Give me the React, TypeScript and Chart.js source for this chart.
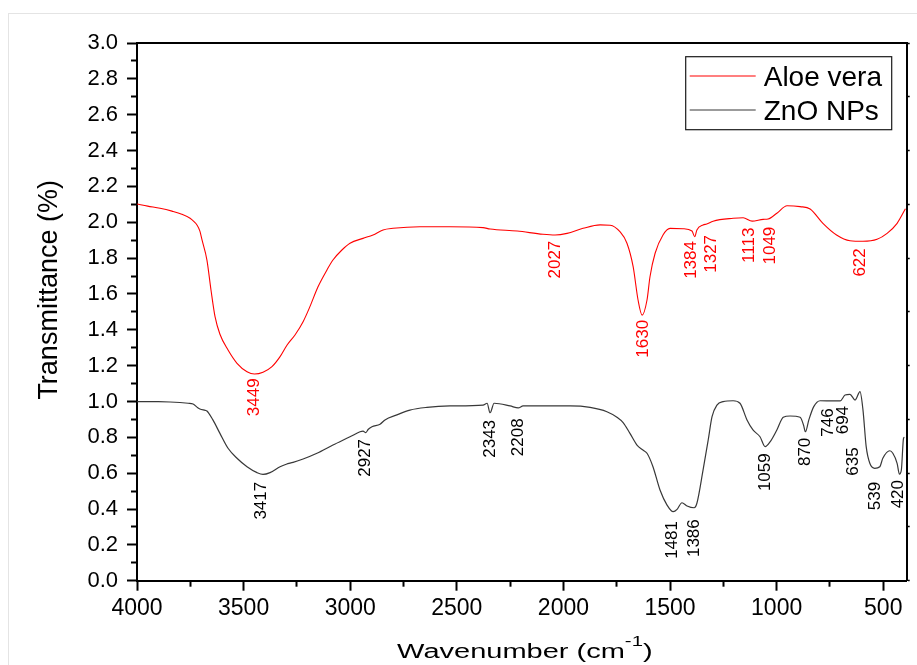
import React, { useEffect, useRef } from "react";
import { Chart, registerables } from "chart.js";

Chart.register(...registerables);

const FONT = "'Liberation Sans', Arial, Helvetica, sans-serif";

// ---- Data ----
const seriesNames = ["Aloe vera", "ZnO NPs"];
const seriesColors = ["#ff0000", "#383838"];

const aloeWavenumbers = [
  4000, 3950, 3892, 3836, 3790, 3751, 3730, 3719, 3705, 3695, 3672, 3653, 3634, 3611, 3573, 3531, 3484, 3449,
  3409, 3367, 3329, 3296, 3259, 3221, 3189, 3151, 3109, 3081, 3039, 3001, 2940, 2893, 2846, 2799, 2673, 2532,
  2377, 2344, 2217, 2096, 2039, 1983, 1908, 1828, 1781, 1735, 1702, 1673, 1650, 1631, 1608, 1594, 1570, 1533,
  1500, 1439, 1397, 1384, 1374, 1345, 1328, 1298, 1204, 1157, 1115, 1063, 1040, 999, 951, 890, 843, 783, 719,
  656, 595, 529, 482, 435, 396,
];
const aloeTransmittance = [
  2.102, 2.09, 2.078, 2.062, 2.045, 2.022, 2.0, 1.985, 1.95, 1.901, 1.789, 1.622, 1.473, 1.375, 1.287, 1.213, 1.166, 1.153,
  1.163, 1.194, 1.25, 1.315, 1.371, 1.445, 1.529, 1.64, 1.734, 1.789, 1.845, 1.883, 1.91, 1.929, 1.957, 1.966, 1.975, 1.975,
  1.97, 1.962, 1.951, 1.933, 1.929, 1.938, 1.966, 1.985, 1.983, 1.947, 1.883, 1.752, 1.566, 1.482, 1.566, 1.696, 1.827, 1.929,
  1.966, 1.964, 1.951, 1.919, 1.957, 1.985, 1.99, 2.006, 2.022, 2.025, 2.006, 2.016, 2.018, 2.05, 2.092, 2.087, 2.074, 1.994, 1.929,
  1.897, 1.894, 1.905, 1.938, 1.994, 2.075,
];

const znoWavenumbers = [
  4000, 3900, 3845, 3760, 3737, 3715, 3705, 3680, 3672, 3644, 3611, 3573, 3531, 3484, 3437, 3409, 3376, 3329, 3300,
  3268, 3221, 3156, 3081, 3001, 2954, 2940, 2927, 2915, 2898, 2860, 2837, 2781, 2720, 2640, 2532, 2377, 2358, 2344,
  2325, 2250, 2212, 2189, 1969, 1875, 1796, 1749, 1720, 1688, 1655, 1627, 1608, 1580, 1547, 1514, 1485, 1467, 1444,
  1420, 1387, 1374, 1345, 1321, 1303, 1280, 1251, 1204, 1172, 1139, 1111, 1078, 1054, 1030, 999, 969, 937, 890, 874,
  865, 849, 826, 796, 733, 702, 679, 656, 632, 609, 595, 580, 563, 540, 516, 502, 469, 455, 435, 424, 415, 405, 401,
];
const znoTransmittance = [
  0.999, 0.999, 0.997, 0.99, 0.986, 0.965, 0.958, 0.95, 0.947, 0.897, 0.822, 0.739, 0.683, 0.636, 0.603, 0.593, 0.603, 0.636, 0.65,
  0.66, 0.679, 0.711, 0.757, 0.803, 0.831, 0.835, 0.826, 0.845, 0.859, 0.873, 0.897, 0.925, 0.952, 0.967, 0.975, 0.98, 0.99, 0.937,
  0.99, 0.975, 0.964, 0.975, 0.975, 0.967, 0.943, 0.912, 0.882, 0.822, 0.757, 0.729, 0.711, 0.636, 0.506, 0.422, 0.385, 0.398, 0.435,
  0.417, 0.407, 0.432, 0.618, 0.785, 0.915, 0.98, 0.999, 1.004, 0.99, 0.897, 0.841, 0.803, 0.748, 0.776, 0.841, 0.912, 0.919, 0.912, 0.869,
  0.831, 0.897, 0.971, 1.004, 1.003, 1.003, 1.036, 1.04, 1.008, 1.055, 0.952, 0.748, 0.655, 0.627, 0.636, 0.683, 0.725, 0.711, 0.655, 0.594, 0.618, 0.794, 0.8,
];

// Peak annotations: text, wavenumber of label centre, transmittance at label's upper end
const aloePeakLabels = ["3449", "2027", "1630", "1384", "1327", "1113", "1049", "622"];
const aloePeakLabelX = [3450, 2040, 1626, 1399, 1306, 1129, 1029, 607];
const aloePeakLabelY = [1.129, 1.897, 1.455, 1.895, 1.929, 1.97, 1.975, 1.855];

const znoPeakLabels = ["3417", "2927", "2343", "2208", "1481", "1386", "1059", "870", "746", "694", "635", "539", "420"];
const znoPeakLabelX = [3419, 2928, 2342, 2212, 1488, 1387, 1052, 865, 756, 689, 642, 537, 431];
const znoPeakLabelY = [0.552, 0.791, 0.897, 0.906, 0.333, 0.343, 0.711, 0.798, 0.962, 0.975, 0.744, 0.552, 0.562];

// Axis ticks
const xMin = 390;
const xMax = 4000;
const xMajorTicks = [4000, 3500, 3000, 2500, 2000, 1500, 1000, 500];
const xMinorTicks = [3750, 3250, 2750, 2250, 1750, 1250, 750];
const yMajorTicks = [0, 0.2, 0.4, 0.6, 0.8, 1.0, 1.2, 1.4, 1.6, 1.8, 2.0, 2.2, 2.4, 2.6, 2.8, 3.0];
const yMinorTicks = [0.1, 0.3, 0.5, 0.7, 0.9, 1.1, 1.3, 1.5, 1.7, 1.9, 2.1, 2.3, 2.5, 2.7, 2.9];

const xTitleMain = "Wavenumber (cm";
const xTitleSup = "-1";
const xTitleEnd = ")";
const yTitle = "Transmittance (%)";

const toPoints = (xs: number[], ys: number[]) => xs.map((x, i) => ({ x, y: ys[i] }));

const annotationPlugin = {
  id: "ftirAnnotations",
  afterDraw(chart: any) {
    const { ctx, chartArea, scales } = chart;
    const xs = scales.x;
    const ys = scales.y;
    ctx.save();

    // Peak labels (rotated)
    const drawPeaks = (labels: string[], lx: number[], ly: number[], color: string) => {
      ctx.fillStyle = color;
      ctx.font = `17px ${FONT}`;
      ctx.textAlign = "right";
      ctx.textBaseline = "middle";
      labels.forEach((t, i) => {
        const px = xs.getPixelForValue(lx[i]);
        const py = ys.getPixelForValue(ly[i]);
        ctx.save();
        ctx.translate(px, py);
        ctx.rotate(-Math.PI / 2);
        ctx.fillText(t, 0, 0);
        ctx.restore();
      });
    };
    drawPeaks(aloePeakLabels, aloePeakLabelX, aloePeakLabelY, seriesColors[0]);
    drawPeaks(znoPeakLabels, znoPeakLabelX, znoPeakLabelY, "#000000");

    // Legend box
    const boxW = 206;
    const boxH = 73;
    const boxL = chartArea.right - 15 - boxW;
    const boxT = chartArea.top + 13.7;
    ctx.fillStyle = "#ffffff";
    ctx.fillRect(boxL, boxT, boxW, boxH);
    ctx.strokeStyle = "#1a1a1a";
    ctx.lineWidth = 1.2;
    ctx.strokeRect(boxL, boxT, boxW, boxH);
    chart.data.datasets.forEach((ds: any, i: number) => {
      const ly = boxT + 19.3 + i * 34;
      ctx.strokeStyle = ds.borderColor;
      ctx.lineWidth = 1.2;
      ctx.beginPath();
      ctx.moveTo(boxL + 4, ly);
      ctx.lineTo(boxL + 70, ly);
      ctx.stroke();
      ctx.fillStyle = "#000000";
      ctx.font = `28px ${FONT}`;
      ctx.textAlign = "left";
      ctx.textBaseline = "alphabetic";
      ctx.fillText(ds.label, boxL + 78, ly + 10);
    });

    // X axis title (horizontally stretched, with superscript)
    const sx = 1.45;
    ctx.fillStyle = "#000000";
    ctx.textAlign = "left";
    ctx.textBaseline = "alphabetic";
    ctx.font = `20px ${FONT}`;
    const w1 = ctx.measureText(xTitleMain).width;
    const w3 = ctx.measureText(xTitleEnd).width;
    ctx.font = `14px ${FONT}`;
    const w2 = ctx.measureText(xTitleSup).width;
    const total = (w1 + w2 + w3) * sx;
    const cx = (chartArea.left + chartArea.right) / 2 + 3;
    const by = chartArea.bottom + 77.6;
    ctx.save();
    ctx.translate(cx - total / 2, by);
    ctx.scale(sx, 1);
    ctx.font = `20px ${FONT}`;
    ctx.fillText(xTitleMain, 0, 0);
    ctx.font = `14px ${FONT}`;
    ctx.fillText(xTitleSup, w1, -12);
    ctx.font = `20px ${FONT}`;
    ctx.fillText(xTitleEnd, w1 + w2, 0);
    ctx.restore();

    // Y axis title
    ctx.save();
    ctx.translate(chartArea.left - 80.3, (chartArea.top + chartArea.bottom) / 2 - 22);
    ctx.rotate(-Math.PI / 2);
    ctx.font = `27px ${FONT}`;
    ctx.textAlign = "center";
    ctx.textBaseline = "alphabetic";
    ctx.fillStyle = "#000000";
    ctx.fillText(yTitle, 0, 0);
    ctx.restore();

    ctx.restore();
  },
};

export default function App() {
  const canvasRef = useRef<HTMLCanvasElement | null>(null);

  useEffect(() => {
    document.body.style.overflow = "hidden";
    const canvas = canvasRef.current;
    if (!canvas) return;
    const black = "#000000";
    const chart = new Chart(canvas, {
      type: "line",
      data: {
        datasets: [
          {
            label: seriesNames[0],
            data: toPoints(aloeWavenumbers, aloeTransmittance),
            borderColor: seriesColors[0],
            borderWidth: 1.1,
            pointRadius: 0,
            fill: false,
            cubicInterpolationMode: "monotone",
          },
          {
            label: seriesNames[1],
            data: toPoints(znoWavenumbers, znoTransmittance),
            borderColor: seriesColors[1],
            borderWidth: 1.2,
            pointRadius: 0,
            fill: false,
            cubicInterpolationMode: "monotone",
          },
        ],
      },
      options: {
        responsive: false,
        animation: false,
        devicePixelRatio: 1,
        layout: { padding: 0 },
        plugins: {
          legend: { display: false },
          tooltip: { enabled: false },
          title: { display: false },
        },
        scales: {
          x: {
            type: "linear",
            position: "bottom",
            reverse: true,
            min: xMin,
            max: xMax,
            weight: 10,
            afterBuildTicks: (s: any) => {
              s.ticks = xMajorTicks.map((v) => ({ value: v }));
            },
            afterFit: (s: any) => {
              s.height = 84.3;
            },
            ticks: {
              autoSkip: false,
              maxRotation: 0,
              padding: 4,
              color: black,
              font: { size: 23, family: FONT },
              callback: (v: any) => String(v),
            },
            grid: { drawOnChartArea: false, tickLength: 10, tickWidth: 2, tickColor: black, color: black },
            border: { display: true, color: black, width: 2 },
          },
          xMinor: {
            type: "linear",
            position: "bottom",
            reverse: true,
            min: xMin,
            max: xMax,
            weight: 0,
            afterBuildTicks: (s: any) => {
              s.ticks = xMinorTicks.map((v) => ({ value: v }));
            },
            afterFit: (s: any) => {
              s.height = 0;
            },
            ticks: { display: false },
            grid: { drawOnChartArea: false, tickLength: 6, tickWidth: 2, tickColor: black, color: black },
            border: { display: false },
          },
          xTop: {
            type: "linear",
            position: "top",
            min: 0,
            max: 10,
            afterFit: (s: any) => {
              s.height = 29;
            },
            ticks: { display: false, stepSize: 1 },
            grid: { drawOnChartArea: false, drawTicks: false },
            border: { display: true, color: black, width: 2 },
          },
          y: {
            type: "linear",
            position: "left",
            min: 0,
            max: 3,
            weight: 10,
            afterBuildTicks: (s: any) => {
              s.ticks = yMajorTicks.map((v) => ({ value: v }));
            },
            afterFit: (s: any) => {
              s.width = 128;
            },
            ticks: {
              padding: 9,
              color: black,
              font: { size: 22, family: FONT },
              callback: (v: any) => Number(v).toFixed(1),
            },
            grid: { drawOnChartArea: false, tickLength: 10, tickWidth: 2, tickColor: black, color: black },
            border: { display: true, color: black, width: 2 },
          },
          yMinor: {
            type: "linear",
            position: "left",
            min: 0,
            max: 3,
            weight: 0,
            afterBuildTicks: (s: any) => {
              s.ticks = yMinorTicks.map((v) => ({ value: v }));
            },
            afterFit: (s: any) => {
              s.width = 0;
            },
            ticks: { display: false },
            grid: { drawOnChartArea: false, tickLength: 6, tickWidth: 2, tickColor: black, color: black },
            border: { display: false },
          },
          yRight: {
            type: "linear",
            position: "right",
            min: 0,
            max: 10,
            afterFit: (s: any) => {
              s.width = 10.3;
            },
            ticks: { display: false, stepSize: 1 },
            grid: { drawOnChartArea: false, tickLength: 3, tickWidth: 1.5, tickColor: black, color: black },
            border: { display: true, color: black, width: 2 },
          },
        },
      },
      plugins: [annotationPlugin],
    } as any);
    return () => {
      chart.destroy();
    };
  }, []);

  return (
    <div
      style={{
        position: "absolute",
        left: 8,
        top: 13,
        width: 909,
        height: 652,
        boxSizing: "border-box",
        borderLeft: "1px solid #e4e4e4",
        borderTop: "1px solid #e4e4e4",
        background: "#ffffff",
        overflow: "hidden",
      }}
    >
      <canvas ref={canvasRef} width={908} height={651} style={{ display: "block" }} />
    </div>
  );
}
